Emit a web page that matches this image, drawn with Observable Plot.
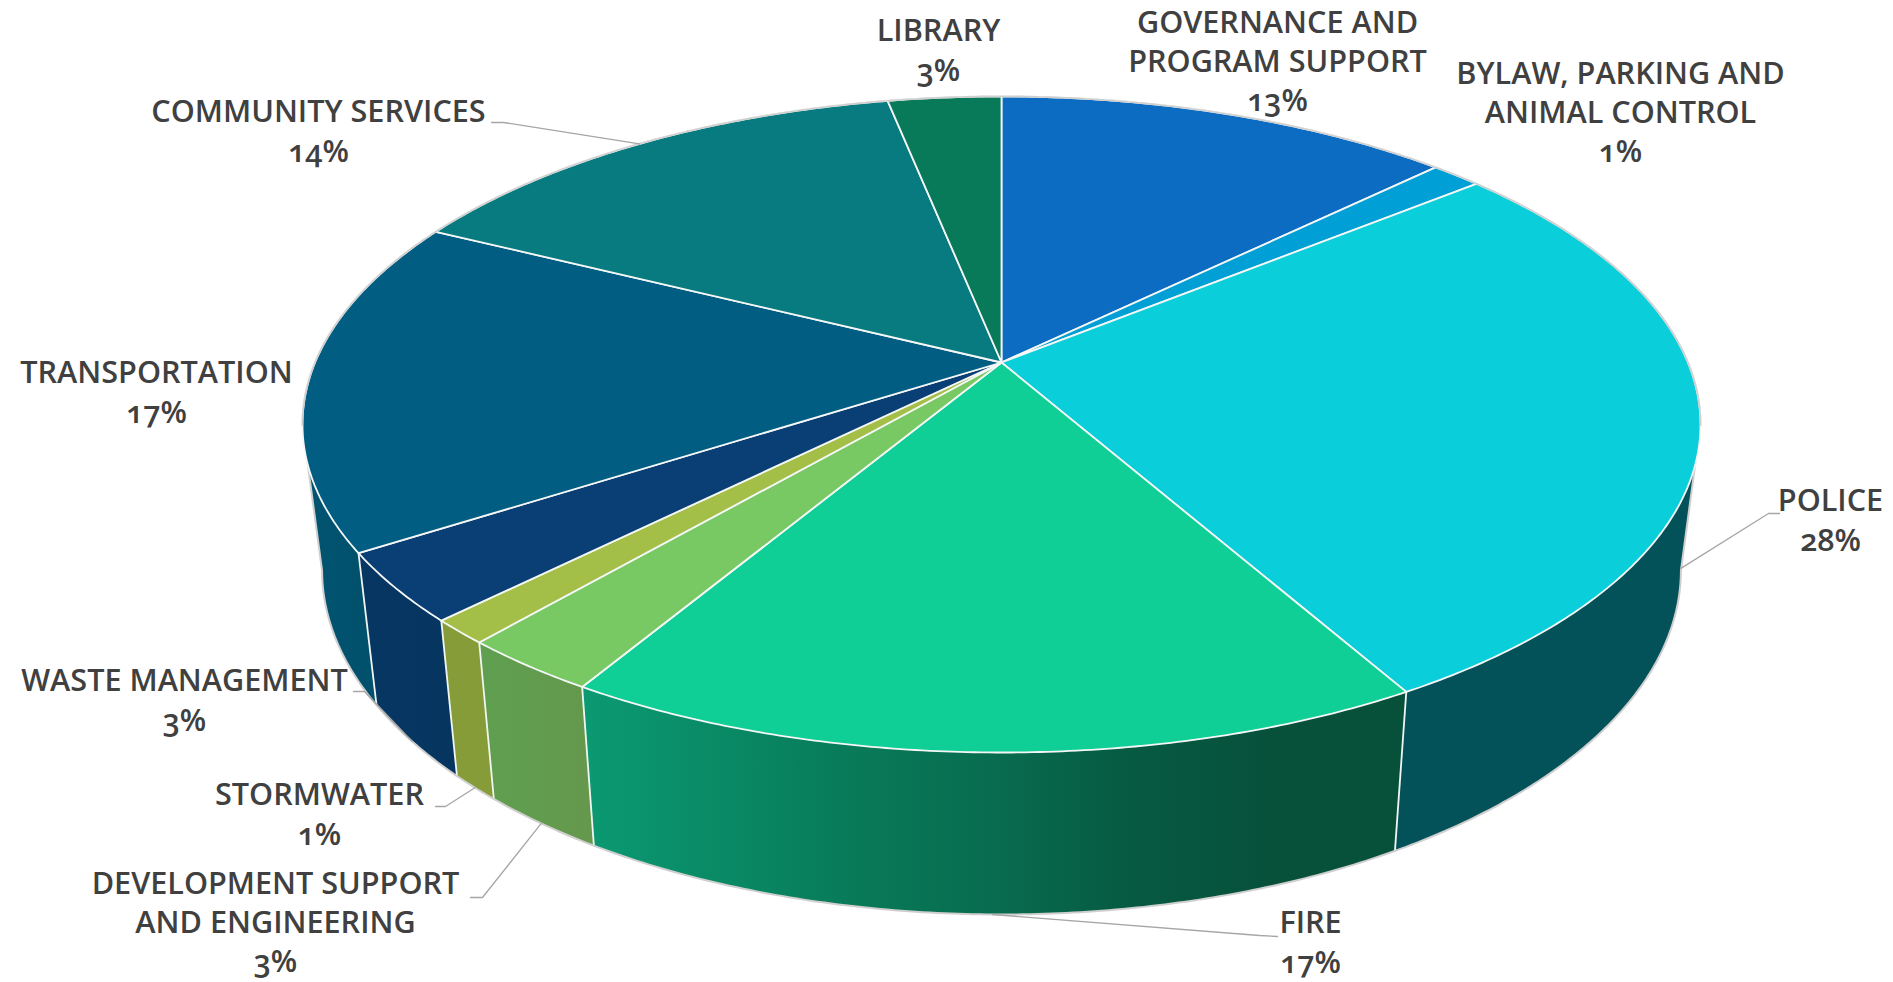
<!DOCTYPE html>
<html>
<head>
<meta charset="utf-8">
<script src="https://cdn.jsdelivr.net/npm/d3@7"></script>
<script src="https://cdn.jsdelivr.net/npm/@observablehq/plot@0.6"></script>
<style>
  html, body { margin: 0; padding: 0; background: #fff; }
  svg { display: block; max-width: none; }
  .pie-label text { font-feature-settings: "onum" 1; font-variant-numeric: oldstyle-nums; }
</style>
</head>
<body>
<div id="chart"></div>
<script>
// Budget shares, clockwise from twelve o'clock
const categories = [
  "GOVERNANCE AND\nPROGRAM SUPPORT",
  "BYLAW, PARKING AND\nANIMAL CONTROL",
  "POLICE",
  "FIRE",
  "DEVELOPMENT SUPPORT\nAND ENGINEERING",
  "STORMWATER",
  "WASTE MANAGEMENT",
  "TRANSPORTATION",
  "COMMUNITY SERVICES",
  "LIBRARY"
];
const shares = [12.7, 1.4, 27.7, 16.75, 2.75, 1.2, 3.4, 16.5, 14.45, 3.15];

const topColors = ["#0c6cc2", "#009fd6", "#0bcedb", "#0fce96", "#78c963", "#a4bf48", "#0a3f76", "#015d82", "#087b80", "#097a59"];
// Wall shading, left to right across each visible slice
const wallShades = [
  ["#0a5aa0"],
  ["#0084b0"],
  ["#03525a", "#03525a"],
  ["#0b9a72", "#098a65", "#087a58", "#086c4f", "#065a41", "#07513b", "#07513b"],
  ["#5f9f50", "#65984d"],
  ["#869c39", "#869c39"],
  ["#063662", "#063560"],
  ["#015470", "#01506c"],
  ["#066468"],
  ["#066046"]
];

// Label placement: centre of each text block, and the elbow of its leader when it has one
const labelX = [1277, 1620, 1830, 1310, 275, 319, 184, 156, 318, 938];
const labelY = [59, 110, 518, 940, 920, 812, 698, 390, 129, 48];
const leaderStart = [null, null, [1779, 513], [1277, 936], [470, 897], [435, 806], [353, 691], null, [491, 122], null];
const leaderElbow = [null, null, [1768, 513], [1259, 935], [482, 897], [445, 806], [364, 691], null, [503, 122], null];

// Perspective of the disc: screen position of a point on the unit circle
const view = {cx: 1001, apexY: 362, a: 686.4, b: 316.3, k: 0.189, sideScaleX: 0.972, sideScaleY: 1.05, sideApexY: 504.5};
function project(turn) {
  const angle = turn * 2 * Math.PI;
  const X = Math.sin(angle), Y = -Math.cos(angle);
  const w = 1 - view.k * Y;
  return {dx: view.a * X / w, dy: view.b * Y / w};
}
const topPoint = (turn) => {
  const {dx, dy} = project(turn);
  return {x: view.cx + dx, y: view.apexY + dy};
};
const basePoint = (turn) => {
  const {dx, dy} = project(turn);
  return {x: view.cx + view.sideScaleX * dx, y: view.sideApexY + view.sideScaleY * dy};
};

// Cumulative slice boundaries as fractions of a full turn
const total = d3.sum(shares);
const ends = Array.from(d3.cumsum(shares), (v) => v / total);
const starts = [0, ...ends.slice(0, -1)];
const arc = (t0, t1) => {
  const n = Math.max(2, Math.ceil(Math.abs(t1 - t0) * 720));
  return d3.range(n + 1).map((i) => t0 + (t1 - t0) * i / n);
};

// The wall is visible between the two silhouette tangents
const tangentRight = 101 / 360, tangentLeft = 259 / 360;

const walls = categories.map((name, i) => {
  const t0 = Math.max(starts[i], tangentRight), t1 = Math.min(ends[i], tangentLeft);
  if (t1 <= t0) return null;
  const upper = arc(t0, t1).map(topPoint);
  const lower = arc(t1, t0).map(basePoint);
  return {i, points: [...upper, ...lower, upper[0]]};
}).filter(Boolean);

const wedges = categories.map((name, i) => {
  const apex = {x: view.cx, y: view.apexY};
  return {i, points: [apex, ...arc(starts[i], ends[i]).map(topPoint), apex]};
});

const seams = starts
  .filter((t) => t > tangentRight && t < tangentLeft)
  .map((t) => ({a: topPoint(t), b: basePoint(t)}));

const outline = [
  ...arc(tangentLeft, 1 + tangentRight).map((t) => topPoint(t % 1)),
  ...arc(tangentRight, tangentLeft).map(basePoint),
  topPoint(tangentLeft)
];

// Leaders finish on the slice's middle: the base rim for front slices, the back rim otherwise
const leaders = leaderStart.map((start, i) => {
  if (!start) return null;
  const mid = (starts[i] + ends[i]) / 2;
  const end = mid > 0.25 && mid < 0.75 ? basePoint(mid) : topPoint(mid);
  return {i, points: [{x: start[0], y: start[1]}, {x: leaderElbow[i][0], y: leaderElbow[i][1]}, end]};
}).filter(Boolean);

const labels = categories.map((name, i) => ({
  text: `${name}\n${Math.round(shares[i])}%`,
  x: labelX[i],
  y: labelY[i]
}));

const defs = () => {
  const d = d3.create("svg:defs");
  walls.forEach(({i}) => {
    const g = d.append("linearGradient").attr("id", `wall-${i}`).attr("x1", 0).attr("x2", 1).attr("y1", 0).attr("y2", 0);
    const shades = wallShades[i];
    shades.forEach((c, j) => {
      g.append("stop").attr("offset", `${100 * j / (shades.length - 1)}%`).attr("stop-color", c);
    });
  });
  return d.node();
};

const chart = Plot.plot({
  width: 1893,
  height: 982,
  margin: 0,
  x: {domain: [0, 1893], axis: null},
  y: {domain: [0, 982], range: [0, 982], axis: null},
  marks: [
    defs,
    // Side wall
    ...walls.map(({i, points}) => Plot.line(points, {
      x: "x", y: "y", fill: `url(#wall-${i})`, stroke: "none", curve: "linear"
    })),
    Plot.link(seams, {
      x1: (d) => d.a.x, y1: (d) => d.a.y, x2: (d) => d.b.x, y2: (d) => d.b.y,
      stroke: "#f2f5f3", strokeWidth: 1.8
    }),
    Plot.line(outline, {x: "x", y: "y", stroke: "#cfcfcf", strokeWidth: 2, curve: "linear"}),
    // Top face
    ...wedges.map(({i, points}) => Plot.line(points, {
      x: "x", y: "y", fill: topColors[i], stroke: "#f4f7f6", strokeWidth: 1.8, strokeLinejoin: "round", curve: "linear"
    })),
    Plot.line(arc(tangentLeft, 1 + tangentRight).map((t) => topPoint(t % 1)), {
      x: "x", y: "y", stroke: "#cfcfcf", strokeWidth: 1.6, curve: "linear"
    }),
    // Leaders and labels
    ...leaders.map(({points}) => Plot.line(points, {
      x: "x", y: "y", stroke: "#a6a6a6", strokeWidth: 1.3, curve: "linear"
    })),
    Plot.text(labels, {
      x: "x", y: "y", text: "text",
      textAnchor: "middle", lineAnchor: "middle", lineHeight: 1.28,
      fontFamily: "'Open Sans'", fontSize: 30.6, fontWeight: 600, fill: "#404040",
      className: "pie-label"
    })
  ]
});
document.getElementById("chart").append(chart);
</script>
</body>
</html>
